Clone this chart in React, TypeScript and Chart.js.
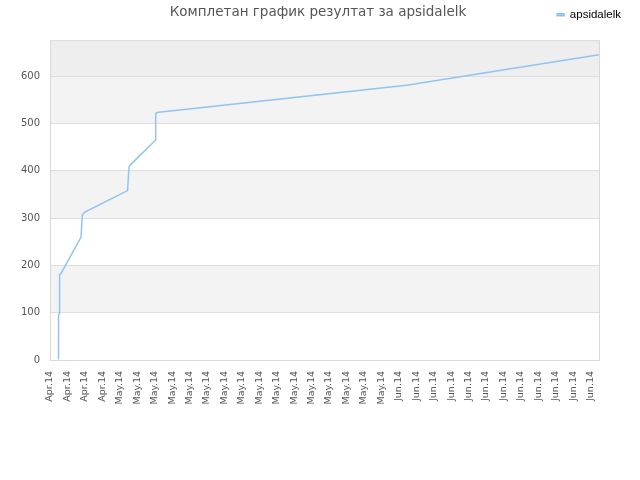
import { useEffect, useRef } from "react";
import { Chart, registerables } from "chart.js";

const seriesName = "apsidalelk";
const chartTitle = "Комплетан график резултат за apsidalelk";

// x axis tick labels, one per tick (index = position on the linear x axis)
const tickLabels = [
  "Apr.14", "Apr.14", "Apr.14", "Apr.14",
  "May.14", "May.14", "May.14", "May.14", "May.14", "May.14", "May.14", "May.14",
  "May.14", "May.14", "May.14", "May.14", "May.14", "May.14", "May.14", "May.14",
  "Jun.14", "Jun.14", "Jun.14", "Jun.14", "Jun.14", "Jun.14",
  "Jun.14", "Jun.14", "Jun.14", "Jun.14", "Jun.14", "Jun.14",
];

// cumulative result, x in tick units
const pointX = [0.48, 0.49, 0.55, 0.55, 0.63, 1.78, 1.85, 1.97, 4.45, 4.53, 4.6, 6.06, 6.06, 6.12, 20.45, 31.48];
const pointY = [2, 95, 99, 180, 183, 260, 306, 312, 358, 408, 412, 465, 521, 523, 581, 645];

const yTicks = [0, 100, 200, 300, 400, 500, 600];
const yMax = 676;
const xMax = 31.54;

const lineColor = "rgb(146, 196, 243)";

const bandsPlugin = {
  id: "bands",
  beforeDraw(chart: any) {
    const { ctx, chartArea: a, scales } = chart;
    const y = scales.y;
    ctx.save();
    ctx.fillStyle = "#ffffff";
    ctx.fillRect(a.left, a.top, a.right - a.left, a.bottom - a.top);
    for (let i = 0; i < yTicks.length; i++) {
      const lo = yTicks[i];
      const hi = i + 1 < yTicks.length ? yTicks[i + 1] : yMax;
      let color = i % 2 === 1 ? "#f3f3f3" : null;
      if (i === yTicks.length - 1) color = "#eeeeee";
      if (!color) continue;
      const top = y.getPixelForValue(hi);
      const bottom = y.getPixelForValue(lo);
      ctx.fillStyle = color;
      ctx.fillRect(a.left, top, a.right - a.left, bottom - top);
    }
    ctx.restore();
  },
  beforeDatasetsDraw(chart: any) {
    const { ctx, chartArea: a } = chart;
    ctx.save();
    ctx.strokeStyle = "#d9d9d9";
    ctx.lineWidth = 1;
    ctx.strokeRect(a.left + 0.5, a.top + 0.5, a.right - a.left - 1, a.bottom - a.top);
    ctx.restore();
  },
  afterLayout(chart: any) {
    // title centred on the whole canvas
    const t = chart.titleBlock;
    if (t) {
      t.left = 0;
      t.right = 636;
      t.width = t.right - t.left;
    }
    // legend on the title row, at the right
    const l = chart.legend;
    if (l) {
      l.top = 4;
      l.height = 24;
      l.bottom = l.top + l.height;
      l.left = 0;
      l.right = 626;
      l.width = l.right - l.left;
    }
  },
};

const App = () => {
  const chartRef = useRef<HTMLCanvasElement>(null);

  useEffect(() => {
    Chart.register(...registerables);
    document.body.style.margin = "0";
  }, []);

  useEffect(() => {
    let chart: Chart | null = null;
    if (chartRef.current) {
      const ctx = chartRef.current.getContext("2d") as CanvasRenderingContext2D;
      chart = new Chart(ctx, {
        type: "line",
        data: {
          datasets: [
            {
              label: seriesName,
              data: pointX.map((x, i) => ({ x, y: pointY[i] })),
              borderColor: lineColor,
              backgroundColor: lineColor,
              borderWidth: 1.5,
              pointRadius: 0,
              tension: 0,
              fill: false,
            },
          ],
        },
        options: {
          animation: false,
          responsive: false,
          devicePixelRatio: 1,
          font: { family: "DejaVu Sans" },
          layout: { padding: { top: 0, right: 40, bottom: 0, left: 0 } },
          scales: {
            x: {
              type: "linear",
              min: 0,
              max: xMax,
              afterBuildTicks: (axis: any) => {
                axis.ticks = tickLabels.map((_, i) => ({ value: i }));
              },
              afterFit: (s: any) => {
                s.height = 120;
              },
              grid: { display: false, drawTicks: false },
              border: { display: false },
              ticks: {
                autoSkip: false,
                maxRotation: 90,
                minRotation: 90,
                padding: 11,
                color: "#555",
                font: { family: "DejaVu Sans", size: 9.5 },
                callback: (v: any) => tickLabels[v] ?? "",
              },
            },
            y: {
              min: 0,
              max: yMax,
              afterBuildTicks: (axis: any) => {
                axis.ticks = yTicks.map((v) => ({ value: v }));
              },
              afterFit: (s: any) => {
                s.width = 50;
              },
              grid: { color: "#dedede", drawTicks: false },
              border: { display: false },
              ticks: {
                padding: 10,
                color: "#555",
                font: { family: "DejaVu Sans", size: 10 },
              },
            },
          },
          plugins: {
            title: {
              display: true,
              text: chartTitle,
              color: "#555",
              font: { family: "DejaVu Sans", size: 13.5, weight: "normal" },
              padding: { top: 4, bottom: 19 },
            },
            legend: {
              display: true,
              position: "top",
              align: "end",
              maxHeight: 1,
              labels: {
                color: "#000",
                boxWidth: 7,
                boxHeight: 2,
                padding: 5,
                font: { family: "Liberation Sans", size: 11.5 },
              },
            },
            tooltip: { enabled: false },
          },
        },
        plugins: [bandsPlugin],
      } as any);
    }
    return () => {
      if (chart) {
        chart.destroy();
      }
    };
  }, []);

  return (
    <div style={{ width: 640, height: 480 }}>
      <canvas ref={chartRef} width={640} height={480} />
    </div>
  );
};

export default App;
